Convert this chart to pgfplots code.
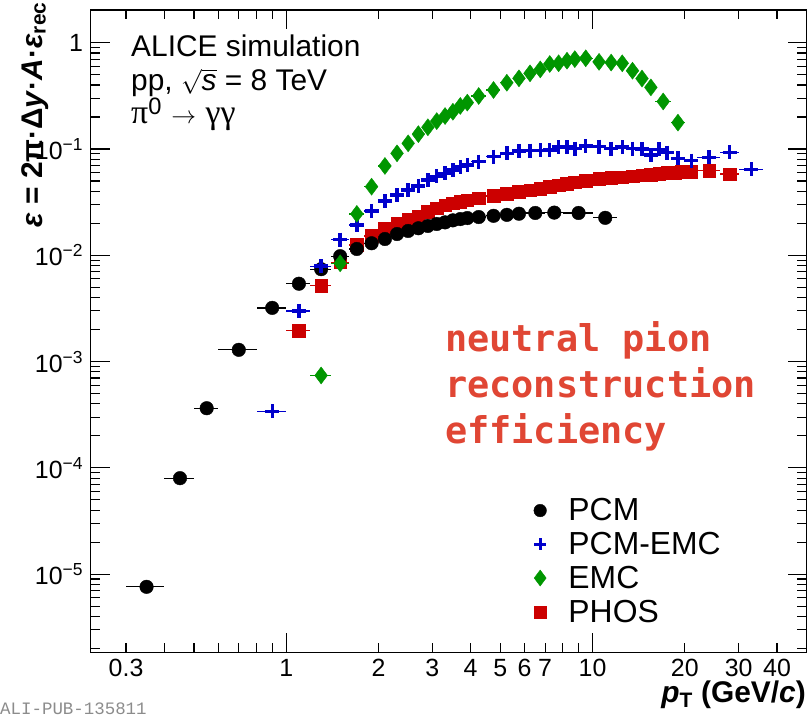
\documentclass[border=0pt]{standalone}
\usepackage{fontspec}
\setmainfont{Liberation Sans}
\newfontfamily\annfont{DejaVu Sans Mono}
\newfontfamily\pubfont{Liberation Mono}
\newfontfamily\grk{Liberation Serif}
\usepackage{pgfplots}
\pgfplotsset{compat=1.18}
\usepackage{pgfplotstable}

\definecolor{pcmblack}{RGB}{0,0,0}
\definecolor{pcmemcblue}{RGB}{0,0,204}
\definecolor{emcgreen}{RGB}{0,150,0}
\definecolor{phosred}{RGB}{204,0,0}
\definecolor{annred}{RGB}{224,70,52}
\definecolor{pubgrey}{RGB}{140,140,140}

\pgfplotstableread{
x y dx
0.35 7.6e-6 0.05
0.45 8.0e-5 0.05
0.55 3.64e-4 0.05
0.7 1.29e-3 0.1
0.9 3.2e-3 0.1
1.1 5.4e-3 0.1
1.3 7.4e-3 0.1
1.5 9.8e-3 0.1
1.7 0.01146 0.1
1.9 0.01297 0.1
2.1 0.01423 0.1
2.3 0.01585 0.1
2.5 0.01694 0.1
2.7 0.01795 0.1
2.9 0.01887 0.1
3.1 0.0197 0.1
3.3 0.0204 0.1
3.5 0.0213 0.1
3.7 0.0219 0.1
3.9 0.0224 0.1
4.25 0.0229 0.25
4.75 0.0235 0.25
5.25 0.0240 0.25
5.75 0.0246 0.25
6.5 0.0250 0.5
7.5 0.0252 0.5
9 0.0250 1
11 0.0225 1
}\pcm

\pgfplotstableread{
x y dx
0.9 3.4e-4 0.1
1.1 3.0e-3 0.1
1.3 7.9e-3 0.1
1.5 0.0140 0.1
1.7 0.0193 0.1
1.9 0.0261 0.1
2.1 0.0324 0.1
2.3 0.0369 0.1
2.5 0.0411 0.1
2.7 0.0449 0.1
2.9 0.0510 0.1
3.1 0.0552 0.1
3.3 0.0590 0.1
3.5 0.0634 0.1
3.7 0.0680 0.1
3.9 0.0707 0.1
4.25 0.0760 0.25
4.75 0.0847 0.25
5.25 0.0910 0.25
5.75 0.0958 0.25
6.25 0.0965 0.25
6.75 0.0970 0.25
7.25 0.0980 0.25
7.75 0.1040 0.25
8.25 0.1040 0.25
8.75 0.1010 0.25
9.5 0.1065 0.5
10.5 0.1050 0.5
11.5 0.1010 0.5
12.5 0.1040 0.5
13.5 0.1010 0.5
14.5 0.1000 0.5
15.5 0.0878 0.5
16.5 0.0993 0.5
17.5 0.0923 0.5
19 0.0817 1
21 0.0776 1
24 0.0835 2
28 0.0930 2
33 0.0644 3
}\pcmemc

\pgfplotstableread{
x y dx
1.3 7.4e-4 0.1
1.5 8.4e-3 0.1
1.7 0.0245 0.1
1.9 0.0442 0.1
2.1 0.0692 0.1
2.3 0.091 0.1
2.5 0.113 0.1
2.7 0.138 0.1
2.9 0.160 0.1
3.1 0.183 0.1
3.3 0.204 0.1
3.5 0.224 0.1
3.7 0.254 0.1
3.9 0.273 0.1
4.25 0.315 0.25
4.75 0.359 0.25
5.25 0.42 0.25
5.75 0.462 0.25
6.25 0.515 0.25
6.75 0.56 0.25
7.25 0.63 0.25
7.75 0.64 0.25
8.25 0.677 0.25
8.75 0.70 0.25
9.5 0.713 0.5
10.5 0.66 0.5
11.5 0.65 0.5
12.5 0.64 0.5
13.5 0.545 0.5
14.5 0.46 0.5
15.5 0.38 0.5
17 0.28 1
19 0.177 1
}\emc

\pgfplotstableread{
x y dx
1.1 1.95e-3 0.1
1.3 5.2e-3 0.1
1.5 8.6e-3 0.1
1.7 0.0125 0.1
1.9 0.0152 0.1
2.1 0.0179 0.1
2.3 0.0201 0.1
2.5 0.0218 0.1
2.7 0.0234 0.1
2.9 0.0257 0.1
3.1 0.0277 0.1
3.3 0.0297 0.1
3.5 0.0310 0.1
3.7 0.0320 0.1
3.9 0.0330 0.1
4.25 0.0345 0.25
4.75 0.0362 0.25
5.25 0.0380 0.25
5.75 0.0395 0.25
6.25 0.0410 0.25
6.75 0.0425 0.25
7.25 0.0440 0.25
7.75 0.0455 0.25
8.25 0.0470 0.25
8.75 0.0488 0.25
9.5 0.0505 0.5
10.5 0.0525 0.5
11.5 0.0535 0.5
12.5 0.0545 0.5
13.5 0.0555 0.5
14.5 0.0565 0.5
15.5 0.0575 0.5
16.5 0.0585 0.5
17.5 0.0595 0.5
18.5 0.0600 0.5
19.5 0.0608 0.5
21 0.0612 1
24 0.0625 2
28 0.0580 2
}\phos

\begin{document}
\begin{tikzpicture}
\useasboundingbox (0,0) rectangle (811bp,718bp);
\begin{axis}[
  at={(90.7bp,65.7bp)}, anchor=south west,
  scale only axis, width=716bp, height=642.3bp,
  xmode=log, ymode=log,
  xmin=0.23, xmax=50, ymin=1.84e-6, ymax=2.03,
  axis line style={line width=1.1bp},
  every tick/.style={line width=1.1bp, black},
  major tick length=19bp, minor tick length=9.5bp,
  tick align=inside,
  xtick={1,10}, xticklabels={1,10},
  extra x ticks={0.3,2,3,4,5,6,7,20,30,40},
  extra x tick labels={0.3,2,3,4,5,6,7,20,30,40},
  extra x tick style={major tick length=9.5bp},
  minor xtick={0.4,0.5,0.6,0.7,0.8,0.9,8,9},
  ytick={1e-5,1e-4,1e-3,1e-2,1e-1,1},
  yticklabels={10\textsuperscript{−5},10\textsuperscript{−4},10\textsuperscript{−3},10\textsuperscript{−2},10\textsuperscript{−1},1},
  minor ytick={2e-6,3e-6,4e-6,5e-6,6e-6,7e-6,8e-6,9e-6,
    2e-5,3e-5,4e-5,5e-5,6e-5,7e-5,8e-5,9e-5,
    2e-4,3e-4,4e-4,5e-4,6e-4,7e-4,8e-4,9e-4,
    2e-3,3e-3,4e-3,5e-3,6e-3,7e-3,8e-3,9e-3,
    2e-2,3e-2,4e-2,5e-2,6e-2,7e-2,8e-2,9e-2,
    0.2,0.3,0.4,0.5,0.6,0.7,0.8,0.9,2},
  ticklabel style={font=\fontsize{25}{25}\selectfont},
  xticklabel style={inner sep=0pt, yshift=-6.5bp},
  yticklabel style={inner sep=0pt, xshift=-7.5bp},
  error bars/error bar style={line width=1.3bp},
  legend style={at={(axis description cs:0.6145,0.2426)}, anchor=north west,
    draw=none, fill=none, font=\fontsize{32}{32}\selectfont,
    nodes={inner sep=0bp}, column sep=22bp, row sep=10bp},
  legend cell align=left,
]
% draw order: PHOS, PCM, PCM-EMC, EMC
\addplot[forget plot, only marks, mark=square*, mark size=6.3bp, color=phosred,
  error bars/.cd, x dir=both, x explicit, error mark=none,
  error bar style={phosred}]
  table[x=x, y=y, x error=dx] {\phos};
\addplot[forget plot, only marks, mark=*, mark size=6.8bp, color=pcmblack,
  error bars/.cd, x dir=both, x explicit, error mark=none,
  error bar style={pcmblack}]
  table[x=x, y=y, x error=dx] {\pcm};
\addplot[forget plot, only marks, mark=+, mark size=7bp, color=pcmemcblue, mark options={line width=3.4bp},
  error bars/.cd, x dir=both, x explicit, error mark=none,
  error bar style={pcmemcblue, line width=1.3bp}]
  table[x=x, y=y, x error=dx] {\pcmemc};
\addplot[forget plot, only marks, mark=diamond*, mark size=8.5bp, color=emcgreen,
  error bars/.cd, x dir=both, x explicit, error mark=none,
  error bar style={emcgreen}]
  table[x=x, y=y, x error=dx] {\emc};
\addlegendimage{only marks, mark=*, mark size=6.3bp, color=pcmblack}
\addlegendentry{PCM}
\addlegendimage{only marks, mark=+, mark size=6bp, color=pcmemcblue, mark options={line width=3bp}}
\addlegendentry{PCM-EMC}
\addlegendimage{only marks, mark=diamond*, mark size=8bp, color=emcgreen}
\addlegendentry{EMC}
\addlegendimage{only marks, mark=square*, mark size=6bp, color=phosred}
\addlegendentry{PHOS}
\end{axis}
% texts
\node[anchor=base west, inner sep=0pt, font=\fontsize{30}{30}\selectfont] at (131bp,661bp) {ALICE simulation};
\node[anchor=base west, inner sep=0pt, font=\fontsize{30}{30}\selectfont] at (131bp,627bp) {pp, $\smash{\sqrt{\mbox{\itshape s}}}$ = 8 TeV};
\node[anchor=base west, inner sep=0pt, font=\fontsize{34}{34}\selectfont] at (131bp,594bp) {{\grk π}\textsuperscript{0} $\rightarrow$ {\grk γγ}};
\node[anchor=base west, inner sep=0pt, text=annred, font=\annfont\bfseries\fontsize{37}{37}\selectfont] at (445bp,366bp) {neutral pion};
\node[anchor=base west, inner sep=0pt, text=annred, font=\annfont\bfseries\fontsize{37}{37}\selectfont] at (445bp,320bp) {reconstruction};
\node[anchor=base west, inner sep=0pt, text=annred, font=\annfont\bfseries\fontsize{37}{37}\selectfont] at (445bp,274bp) {efficiency};
\node[rotate=90, anchor=base east, inner sep=0pt, font=\bfseries\fontsize{30}{30}\selectfont] at (42bp,716bp) {\textit{ε} = 2π·Δ\textit{y}·\textit{A}·\textit{ε}\textsubscript{rec}};
\node[anchor=base east, inner sep=0pt, font=\bfseries\fontsize{30}{30}\selectfont] at (806bp,16bp) {\textit{p}\textsubscript{T} (GeV/\textit{c})};
\node[anchor=base west, inner sep=0pt, text=pubgrey, font=\pubfont\fontsize{17.5}{17.5}\selectfont] at (0bp,4bp) {ALI-PUB-135811};
\end{tikzpicture}
\end{document}
